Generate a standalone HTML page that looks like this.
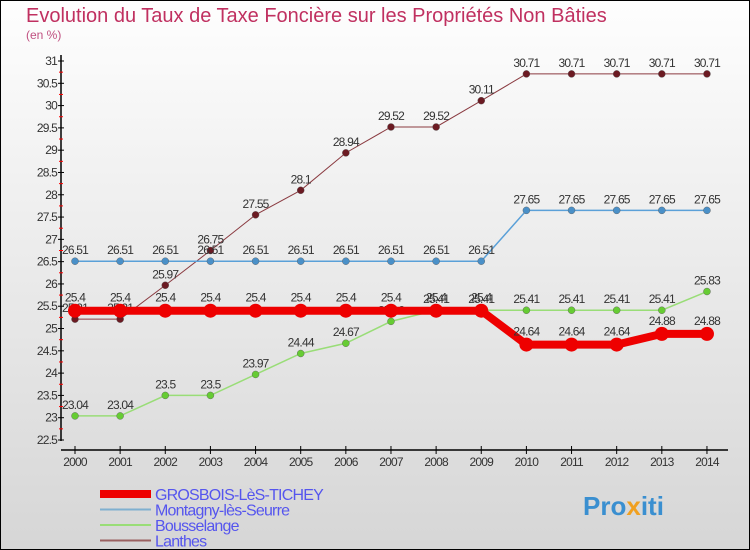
<!DOCTYPE html>
<html><head><meta charset="utf-8"><style>
body{margin:0;}
#wrap{width:748px;height:548px;border:1px solid #000;background:linear-gradient(#fefefe,#d6d6d6);position:relative;overflow:hidden;font-family:"Liberation Sans",sans-serif;}
svg{position:absolute;left:-1px;top:-1px;}
</style></head><body>
<div id="wrap">
<svg id="c" width="750" height="550">
<text x="26" y="22" font-size="20" fill="#c03060">Evolution du Taux de Taxe Foncière sur les Propriétés Non Bâties</text>
<text x="26" y="39" font-size="12" fill="#c05080">(en %)</text>
<g id="axes"></g><g id="series"></g><g id="legend"></g>
<text x="583" y="515" font-size="26" font-weight="bold" fill="#3a8fd0">Pro<tspan fill="#f0a020">x</tspan>iti</text>
</svg></div>
<script>
const years=[2000,2001,2002,2003,2004,2005,2006,2007,2008,2009,2010,2011,2012,2013,2014];
const yTicks=[22.5,23,23.5,24,24.5,25,25.5,26,26.5,27,27.5,28,28.5,29,29.5,30,30.5,31];
const grosbois=[25.4,25.4,25.4,25.4,25.4,25.4,25.4,25.4,25.4,25.4,24.64,24.64,24.64,24.88,24.88];
const montagny=[26.51,26.51,26.51,26.51,26.51,26.51,26.51,26.51,26.51,26.51,27.65,27.65,27.65,27.65,27.65];
const bousselange=[23.04,23.04,23.5,23.5,23.97,24.44,24.67,25.16,25.41,25.41,25.41,25.41,25.41,25.41,25.83];
const lanthes=[25.21,25.21,25.97,26.75,27.55,28.1,28.94,29.52,29.52,30.11,30.71,30.71,30.71,30.71,30.71];
const names=["GROSBOIS-LèS-TICHEY","Montagny-lès-Seurre","Bousselange","Lanthes"];
const NS="http://www.w3.org/2000/svg";
const xS=i=>75+i*45.14;
const yS=v=>440-(v-22.5)/8.5*379;
function mk(t,a,p){const e=document.createElementNS(NS,t);for(const k in a)e.setAttribute(k,a[k]);p.appendChild(e);return e;}
const ax=document.getElementById('axes');
let l=mk('line',{x1:61,y1:55,x2:61,y2:441,stroke:'#000','stroke-width':1.5},ax);

l=mk('line',{x1:61,y1:450,x2:728,y2:450,stroke:'#000','stroke-width':1.5},ax);

yTicks.forEach((v,i)=>{const y=yS(v);
 mk('line',{x1:58,y1:y,x2:64,y2:y,stroke:'#000'},ax);
 if(i<yTicks.length-1) mk('line',{x1:59,y1:y-11.15,x2:63,y2:y-11.15,stroke:'#f00'},ax);
 const t=mk('text',{x:57,y:y+4,'font-size':12,'text-anchor':'end',fill:'#333','letter-spacing':'-0.8'},ax);t.textContent=String(v);
 });
years.forEach((yr,i)=>{const x=xS(i);
 mk('line',{x1:x,y1:446,x2:x,y2:454,stroke:'#000'},ax);
 const t=mk('text',{x:x,y:466,'font-size':12,'text-anchor':'middle',fill:'#333','letter-spacing':'-0.8'},ax);t.textContent=yr;
 });
const sg=document.getElementById('series');
const cfg=[[lanthes,'#6b1a22','#8a3a40',1,3.5],[montagny,'#4a90c8','#5aa0d8',1.5,3.5],[bousselange,'#66cc33','#99dd77',1.5,3.5],[grosbois,'#ee0000','#ee0000',8,7]];
const order=[3,1,2,0];
cfg.forEach((c,k)=>{const [d,dot,line,w,r]=c;
 const g=mk('g',{},sg);
 const p=mk('polyline',{points:d.map((v,i)=>xS(i)+','+yS(v)).join(' '),fill:'none',stroke:line,'stroke-width':w},g);
 
 d.forEach((v,i)=>{const cc=mk('circle',{cx:xS(i),cy:yS(v),r:r,fill:dot,stroke:k==3?'none':'#555','stroke-width':0.4},g);
  
  const t=mk('text',{x:xS(i),y:yS(v)-(k==3?9:7),'font-size':12,'text-anchor':'middle',fill:'#333','letter-spacing':'-0.8'},g);t.textContent=String(v);
  });});
const lg=document.getElementById('legend');
const lc=[['#ee0000',8],['#7fb0d0',2],['#99dd77',2],['#9a6060',2]];
names.forEach((n,i)=>{const y=494+i*15.5;
 const g=mk('g',{},lg);
 mk('line',{x1:100,y1:y,x2:151,y2:y,stroke:lc[i][0],'stroke-width':lc[i][1]},g);
 const t=mk('text',{x:155,y:y+6,'font-size':16,fill:'#5555ee','letter-spacing':'-0.8'},g);t.textContent=n;});
</script>
</body></html>
